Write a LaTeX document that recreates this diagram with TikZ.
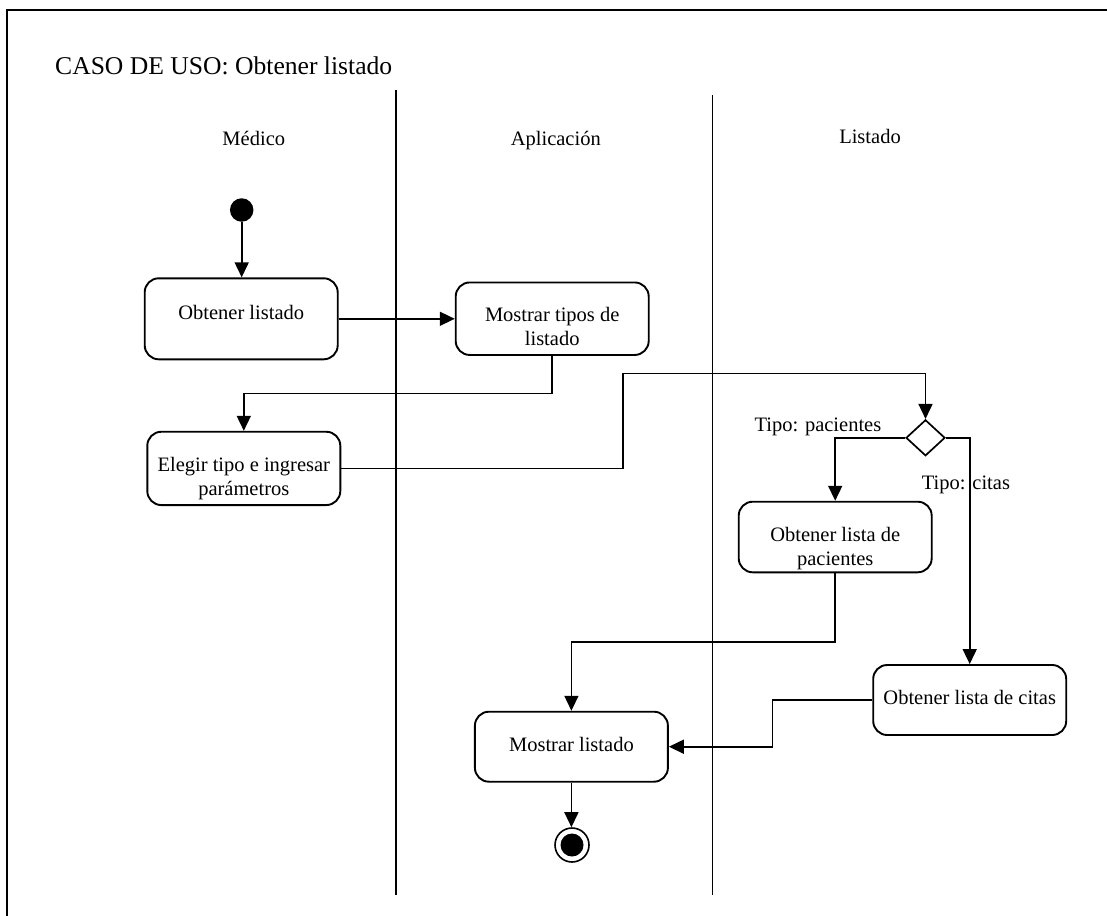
\documentclass[tikz,border=0pt]{standalone}
\usepackage{fontspec}
\setmainfont{Liberation Serif}
\usetikzlibrary{arrows.meta,shapes.geometric}
\begin{document}
\begin{tikzpicture}[x=1pt,y=-1pt,
  every node/.style={font=\fontsize{20.5}{23.5}\selectfont},
  actbox/.style={draw, fill=white, line width=1.9pt, rounded corners=14pt,
    minimum width=193pt, inner sep=0pt},
  txt/.style={inner sep=0pt, align=center},
  flow/.style={line width=1.6pt, -{Triangle[length=15pt,width=14pt]}},
  lane/.style={line width=1.4pt},
  tag/.style={inner sep=0pt}]
\useasboundingbox (0,0) rectangle (1107,915);
\clip (0,0) rectangle (1107,915);

% outer frame
\draw[line width=2pt] (6.5,10) rectangle (1140,950);

% title and swimlanes
\node[tag, anchor=base west, font=\fontsize{25.6}{30}\selectfont] (title) at (55,75) {CASO DE USO: Obtener listado};
\coordinate (l1top) at (396,90);   \coordinate (l1bot) at (396,895);
\coordinate (l2top) at (712.7,95); \coordinate (l2bot) at (712.7,895);
\draw[lane] (l1top) -- (l1bot);
\draw[lane] (l2top) -- (l2bot);
\node[tag, anchor=base] (h1) at (253.8,145) {Médico};
\node[tag, anchor=base] (h2) at (555.8,145) {Aplicación};
\node[tag, anchor=base] (h3) at (870,143) {Listado};

% activities
\node[circle, fill, minimum size=23.5pt, inner sep=0pt] (start) at (241.7,210) {};

\node[actbox, minimum height=81pt] (b1) at (241.2,318.8) {};
\node[txt, anchor=base] (t1) at (241.2,319) {Obtener listado};

\node[actbox, minimum height=72.5pt] (b2) at (552.2,318.7) {};
\node[txt] (t2) at (552.2,326.5) {Mostrar tipos de\\listado};

\node[actbox, minimum height=73.3pt] (b3) at (243.8,468.4) {};
\node[txt] (t3) at (243.8,478.7) {Elegir tipo e ingresar\\parámetros};

\node[draw, fill=white, diamond, line width=1.7pt, minimum width=39pt,
  minimum height=36pt, inner sep=0pt] (dec) at (925.5,437.8) {};

\node[actbox, minimum height=70.6pt] (b4) at (835.2,537) {};
\node[txt] (t4) at (835.2,548.7) {Obtener lista de\\pacientes};

\node[actbox, minimum height=70pt] (b5) at (969.7,700) {};
\node[txt, anchor=base] (t5) at (969.7,704.3) {Obtener lista de citas};

\node[actbox, minimum height=70pt] (b6) at (571.4,746.7) {};
\node[txt, anchor=base] (t6) at (571.4,751.7) {Mostrar listado};

\node[circle, draw, line width=1.6pt, minimum size=34pt, inner sep=0pt] (end) at (572,845) {};
\node[circle, fill, minimum size=23pt, inner sep=0pt] (endcore) at (end.center) {};

% guard labels
\node[tag, anchor=base west] (lp) at (754.3,431.7) {Tipo: pacientes};
\node[tag, anchor=base west] (lc) at (921.7,489) {Tipo: citas};

% bend points
\coordinate (k1) at (552.2,393.3);
\coordinate (k2) at (622.7,373.3);
\coordinate (k3) at (835.2,641.7);
\coordinate (k4) at (772.6,700);

% transitions
\draw[flow] (start) -- (start |- b1.north);
\draw[flow] (b1.east) -- (b1.east -| b2.west);
\draw[flow] (b2.south) -- (k1) -| (b3.north);
\draw[flow] (b3.east) -| (k2) -| (dec.north);
\draw[flow] (dec.west) -| (b4.north);
\draw[flow] (dec.east) -| (b5.north);
\draw[flow] (b4.south) -- (k3) -| (b6.north);
\draw[flow] (b5.west) -- (k4) |- (b6.east);
\draw[flow] (b6.south) -- (b6.south |- end.north);
\end{tikzpicture}
\end{document}
